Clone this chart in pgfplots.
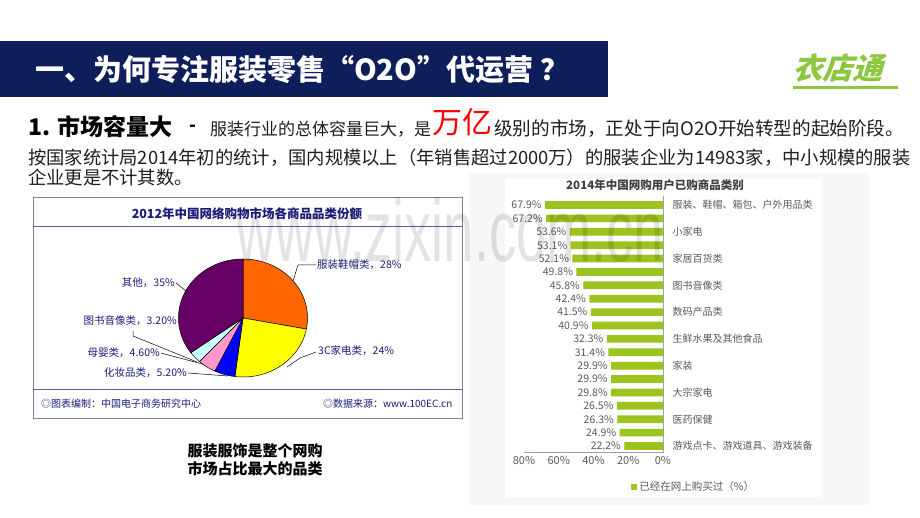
\documentclass[border=0pt]{standalone}
\usepackage{fontspec}
\setmainfont{Noto Sans CJK SC}
\newfontfamily\wmfont{Liberation Sans}
\usepackage{graphicx}
\usepackage{pgfplots}
\pgfplotsset{compat=1.18}
\usepackage{pgfplotstable}
\definecolor{navy}{HTML}{0E1E5B}
\definecolor{pienavy}{HTML}{1C1C78}
\definecolor{bargreen}{HTML}{9CC31E}
\definecolor{logogreen}{HTML}{8DC63F}
\definecolor{labgray}{HTML}{5A5A5A}
\definecolor{axgray}{HTML}{A0A0A0}
\definecolor{pieorange}{HTML}{FF6600}
\definecolor{pieyellow}{HTML}{FFFF00}
\definecolor{pieblue}{HTML}{0000FF}
\definecolor{piepink}{HTML}{FF99CC}
\definecolor{piecyan}{HTML}{CCFFFF}
\definecolor{piepurple}{HTML}{660066}
\definecolor{bodytext}{HTML}{1E1E1E}
\definecolor{panelgray}{HTML}{F6F7F9}

% 2014 bar chart data (share of online shoppers, %)
\pgfplotstableread{
idx value
1 67.9
2 67.2
3 53.6
4 53.1
5 52.1
6 49.8
7 45.8
8 42.4
9 41.5
10 40.9
11 32.3
12 31.4
13 29.9
14 29.9
15 29.8
16 26.5
17 26.3
18 24.9
19 22.2
}\bardata

\begin{document}
\begin{tikzpicture}
\path[use as bounding box, fill=white] (0,0) rectangle (920bp,518bp);

\begin{scope}[x=1bp, y=-1bp, yshift=518bp]
% ---------- title bar ----------
\fill[navy] (0,41) rectangle (608,97);
\node[anchor=west, inner sep=0, text=white, font=\fontsize{29bp}{30bp}\selectfont\bfseries] at (35,70) {一、为何专注服装零售“O2O”代运营 ？};

% ---------- logo ----------
\begin{scope}[shift={(841,68)}, xslant=0.3]
\node[inner sep=0, text=logogreen, transform shape, font=\fontsize{30bp}{30bp}\selectfont\bfseries] at (0,0) {衣店通};
\end{scope}
\fill[logogreen] (793,86) rectangle (898,89);

% ---------- body text ----------
\node[anchor=west, inner sep=0, text=black, font=\fontsize{23bp}{26bp}\selectfont\bfseries] at (28,127) {1. 市场容量大};
\node[anchor=west, inner sep=0, text=black, font=\fontsize{18bp}{20bp}\selectfont\bfseries] at (189,128) {-};
\node[anchor=west, inner sep=0, text=bodytext, font=\fontsize{17bp}{20bp}\selectfont] at (210,129) {服装行业的总体容量巨大，是};
\node[anchor=west, inner sep=0, text=red, font=\fontsize{30bp}{32bp}\selectfont] at (432,122) {万亿};
\node[anchor=west, inner sep=0, text=bodytext, font=\fontsize{18.6bp}{20bp}\selectfont] at (494,129) {级别的市场，正处于向O2O开始转型的起始阶段。};
\node[anchor=west, inner sep=0, text=bodytext, font=\fontsize{18.3bp}{20bp}\selectfont] at (28,158) {按国家统计局2014年初的统计，国内规模以上（年销售超过2000万）的服装企业为14983家，中小规模的服装};
\node[anchor=west, inner sep=0, text=bodytext, font=\fontsize{18.3bp}{20bp}\selectfont] at (28,177) {企业更是不计其数。};

% ---------- pie chart frame ----------
\draw[gray, line width=0.8bp] (33,197) rectangle (462,418);
\draw[pienavy!70, line width=0.8bp] (33,226) -- (462,226);
\draw[pienavy!70, line width=0.8bp] (33,389) -- (462,389);
\node[inner sep=0, text=pienavy, font=\fontsize{12.5bp}{14bp}\selectfont\bfseries] at (247,214) {2012年中国网络购物市场各商品品类份额};
\node[anchor=west, inner sep=0, text=pienavy, font=\fontsize{10bp}{12bp}\selectfont] at (41,404) {◎图表编制：中国电子商务研究中心};
\node[anchor=west, inner sep=0, text=pienavy, font=\fontsize{10bp}{12bp}\selectfont] at (323,404) {◎数据来源：www.100EC.cn};

% pie labels and leaders
\begin{scope}[line width=0.5bp]
\draw (293,281) -- (298,265) -- (316,265);
\draw (287,367) -- (300,358) -- (316,352);
\draw (188,373) -- (228,376);
\draw (161,353) -- (206,365);
\draw (133,331) -- (133,336) -- (197,362);
\draw (176,283) -- (186,291);
\end{scope}
\begin{scope}[every node/.style={inner sep=0, text=pienavy, font=\fontsize{10.5bp}{12bp}\selectfont}]
\node[anchor=west] at (317,265) {服装鞋帽类，28\%};
\node[anchor=west] at (318,351) {3C家电类，24\%};
\node[anchor=east] at (187,373) {化妆品类，5.20\%};
\node[anchor=east] at (160,353) {母婴类，4.60\%};
\node[anchor=east] at (177,321) {图书音像类，3.20\%};
\node[anchor=east] at (175,283) {其他，35\%};
\end{scope}

% caption
\node[inner sep=0, text=black, font=\fontsize{15bp}{17bp}\selectfont\bfseries] at (255,451) {服装服饰是整个网购};
\node[inner sep=0, text=black, font=\fontsize{15bp}{17bp}\selectfont\bfseries] at (255,469) {市场占比最大的品类};

% ---------- bar chart panel ----------
\fill[panelgray] (469,173) rectangle (869,505);
\fill[white] (505,179) rectangle (822,497);
\node[inner sep=0, text=black!75, font=\fontsize{11.5bp}{13bp}\selectfont\bfseries] at (655,185) {2014年中国网购用户已购商品类别};
\end{scope}

% ---------- pie ----------
\begin{axis}[at={(243bp,200bp)}, anchor=center, width=129bp, height=118bp, scale only axis,
  xmin=-1, xmax=1, ymin=-1, ymax=1, hide axis, clip=false]
% shares: 28, 24, 5.2, 4.6, 3.2, 35 (%), clockwise from 12 o'clock
\addplot[fill=pieorange, draw=black, line width=0.5bp, domain={90-3.6*28}:{90}, samples=60, variable=\t] ({cos(\t)},{sin(\t)}) -- (0,0) -- cycle;
\addplot[fill=pieyellow, draw=black, line width=0.5bp, domain={90-3.6*(28+24)}:{90-3.6*28}, samples=60, variable=\t] ({cos(\t)},{sin(\t)}) -- (0,0) -- cycle;
\addplot[fill=pieblue, draw=black, line width=0.5bp, domain={90-3.6*(52+5.2)}:{90-3.6*52}, samples=20, variable=\t] ({cos(\t)},{sin(\t)}) -- (0,0) -- cycle;
\addplot[fill=piepink, draw=black, line width=0.5bp, domain={90-3.6*(57.2+4.6)}:{90-3.6*57.2}, samples=20, variable=\t] ({cos(\t)},{sin(\t)}) -- (0,0) -- cycle;
\addplot[fill=piecyan, draw=black, line width=0.5bp, domain={90-3.6*(61.8+3.2)}:{90-3.6*61.8}, samples=20, variable=\t] ({cos(\t)},{sin(\t)}) -- (0,0) -- cycle;
\addplot[fill=piepurple, draw=black, line width=0.5bp, domain={90-3.6*(65+35)}:{90-3.6*65}, samples=80, variable=\t] ({cos(\t)},{sin(\t)}) -- (0,0) -- cycle;
\end{axis}

% ---------- bar chart ----------
\begin{axis}[at={(593.5bp,192.5bp)}, anchor=center,
  width=139bp, height=254.4bp, scale only axis,
  /pgf/number format/assume math mode=true,
  xbar, bar width=7.7bp,
  x dir=reverse, y dir=reverse,
  xmin=0, xmax=80, ymin=0.5, ymax=19.5,
  xtick={0,20,40,60,80},
  xticklabel={\pgfmathprintnumber{\tick}\%},
  ytick={1,3,...,19},
  yticklabels={服装、鞋帽、箱包、户外用品类,小家电,家居百货类,图书音像类,数码产品类,生鲜水果及其他食品,家装,大宗家电,医药保健,游戏点卡、游戏道具、游戏装备},
  yticklabel pos=right,
  axis line style={draw=none}, major tick length=0pt,
  x tick label style={font=\fontsize{11bp}{12bp}\selectfont, text=labgray},
  y tick label style={font=\fontsize{10bp}{12bp}\selectfont, text=labgray, anchor=west, xshift=6bp},
  point meta=x,
  nodes near coords={\pgfmathprintnumber[fixed,fixed zerofill,precision=1]{\pgfplotspointmeta}\%},
  every node near coord/.append style={anchor=east, font=\fontsize{10.5bp}{12bp}\selectfont, text=labgray},
  clip=false,
  legend style={at={(0.75,-0.135)}, anchor=west, draw=none, fill=none, font=\fontsize{10.5bp}{12bp}\selectfont, text=labgray},
  legend image code/.code={\fill[bargreen] (0bp,-3bp) rectangle (6bp,3bp);},
]
\addplot[fill=bargreen, draw=none] table[x=value, y=idx] {\bardata};
\addlegendentry{已经在网上购买过（\%）}
\draw[axgray, line width=0.6bp] (axis cs:0,0.3) -- (axis cs:0,19.5);
\draw[axgray, line width=0.6bp] (axis cs:0,19.5) -- (axis cs:80,19.5);
\end{axis}

% ---------- watermark ----------
\node[anchor=base, inner sep=0, text=black, opacity=0.11, font=\wmfont\fontsize{88bp}{90bp}\selectfont] at (450bp,256bp) {\scalebox{0.615}[1]{www.zixin.com.cn}};
\end{tikzpicture}
\end{document}
